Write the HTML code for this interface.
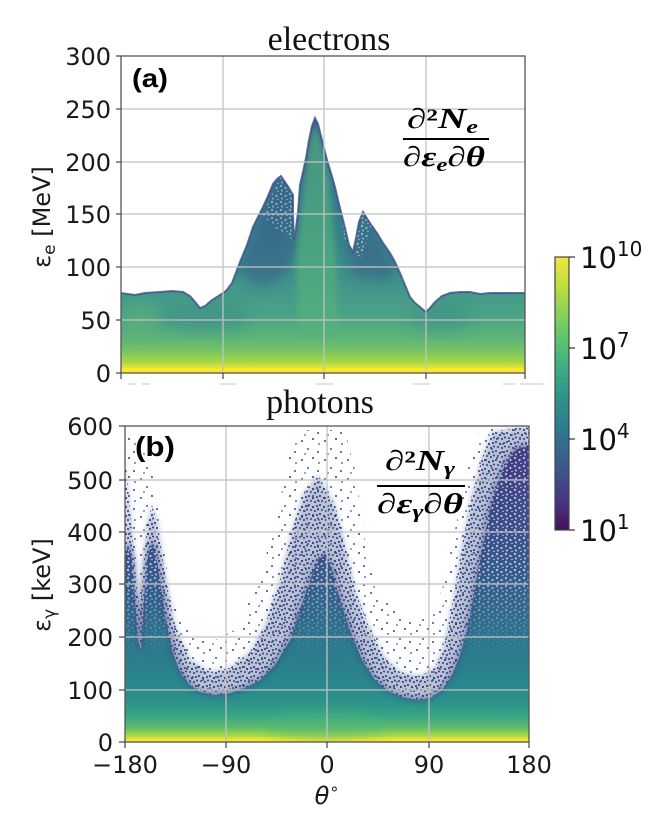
<!DOCTYPE html>
<html><head><meta charset="utf-8"><style>
html,body{margin:0;padding:0;background:#fff;}
svg{display:block;}
</style></head><body>
<svg width="662" height="826" viewBox="0 0 662 826" xmlns="http://www.w3.org/2000/svg">
<defs>
  <clipPath id="cTop"><rect x="121" y="56" width="404" height="317"/></clipPath>
  <clipPath id="cBot"><rect x="125" y="426" width="404" height="316"/></clipPath>
  <filter id="blur3" x="-20%" y="-20%" width="140%" height="140%"><feGaussianBlur stdDeviation="3"/></filter>
  <filter id="blur6" x="-30%" y="-30%" width="160%" height="160%"><feGaussianBlur stdDeviation="6"/></filter>
  <linearGradient id="gTop" gradientUnits="userSpaceOnUse" x1="0" y1="56" x2="0" y2="373">
    <stop offset="0.20" stop-color="#3a678c"/>
    <stop offset="0.45" stop-color="#357a8d"/>
    <stop offset="0.64" stop-color="#3a8d8a"/>
    <stop offset="0.754" stop-color="#44998a"/>
    <stop offset="0.833" stop-color="#4da585"/>
    <stop offset="0.896" stop-color="#5fb676"/>
    <stop offset="0.934" stop-color="#7cc660"/>
    <stop offset="0.965" stop-color="#a6d646"/>
    <stop offset="0.981" stop-color="#d9e23a"/>
    <stop offset="0.987" stop-color="#fbe72a"/>
    <stop offset="1" stop-color="#fde725"/>
  </linearGradient>
  <linearGradient id="gBot" gradientUnits="userSpaceOnUse" x1="0" y1="426" x2="0" y2="742">
    <stop offset="0.076" stop-color="#433d84"/>
    <stop offset="0.361" stop-color="#3b528b"/>
    <stop offset="0.551" stop-color="#33658d"/>
    <stop offset="0.709" stop-color="#2c7a8e"/>
    <stop offset="0.835" stop-color="#2a8a8c"/>
    <stop offset="0.88" stop-color="#2e9489"/>
    <stop offset="0.92" stop-color="#3aa683"/>
    <stop offset="0.955" stop-color="#62bd6a"/>
    <stop offset="0.978" stop-color="#a2d748"/>
    <stop offset="0.992" stop-color="#eee430"/>
    <stop offset="1" stop-color="#fde725"/>
  </linearGradient>
  <linearGradient id="gCb" x1="0" y1="0" x2="0" y2="1">
    <stop offset="0" stop-color="#f2e640"/>
    <stop offset="0.1" stop-color="#c2df3a"/>
    <stop offset="0.2" stop-color="#8cd25a"/>
    <stop offset="0.3" stop-color="#5ec36e"/>
    <stop offset="0.4" stop-color="#3fae82"/>
    <stop offset="0.5" stop-color="#2e978a"/>
    <stop offset="0.6" stop-color="#2e808d"/>
    <stop offset="0.7" stop-color="#35698d"/>
    <stop offset="0.8" stop-color="#3f508a"/>
    <stop offset="0.9" stop-color="#47347f"/>
    <stop offset="1" stop-color="#441257"/>
  </linearGradient>
  <linearGradient id="gFade" gradientUnits="userSpaceOnUse" x1="0" y1="426" x2="0" y2="742">
    <stop offset="0" stop-color="#fff"/>
    <stop offset="0.45" stop-color="#fff"/>
    <stop offset="0.72" stop-color="#000"/>
    <stop offset="1" stop-color="#000"/>
  </linearGradient>
  <mask id="mFade" maskUnits="userSpaceOnUse" x="0" y="0" width="662" height="826">
    <rect x="0" y="0" width="662" height="826" fill="url(#gFade)"/>
  </mask>
  <pattern id="sp" width="23" height="19" patternUnits="userSpaceOnUse">
    <circle cx="3" cy="4" r="1" fill="#3e4a89"/>
    <circle cx="14" cy="2" r="1" fill="#46307e"/>
    <circle cx="9" cy="12" r="1" fill="#31688e"/>
    <circle cx="19" cy="15" r="1" fill="#3e4a89"/>
    <circle cx="6" cy="17" r="0.9" fill="#2a788e"/>
    <circle cx="20" cy="7" r="0.9" fill="#3e4a89"/>
  </pattern>
  <pattern id="md" width="11" height="9" patternUnits="userSpaceOnUse">
    <circle cx="1" cy="1" r="1.1" fill="#3b4f8b"/>
    <circle cx="5" cy="3" r="1.1" fill="#45307c"/>
    <circle cx="9" cy="2" r="1.1" fill="#3b4f8b"/>
    <circle cx="3" cy="6" r="1.1" fill="#31688e"/>
    <circle cx="7" cy="7" r="1.1" fill="#3b4f8b"/>
    <circle cx="10" cy="5.5" r="1" fill="#46307e"/>
  </pattern>
  <pattern id="ws" width="9" height="8" patternUnits="userSpaceOnUse">
    <circle cx="2" cy="2" r="1.1" fill="#fff"/>
    <circle cx="6.5" cy="4" r="1.1" fill="#fff"/>
    <circle cx="3" cy="6.5" r="1" fill="#fff"/>
    <circle cx="8" cy="7.5" r="0.8" fill="#fff"/>
  </pattern>
</defs>

<rect width="662" height="826" fill="#fff"/>

<text x="329" y="50" font-family="Liberation Serif, serif" font-size="34" text-anchor="middle" fill="#111">electrons</text>
<text x="320" y="413" font-family="Liberation Serif, serif" font-size="34" text-anchor="middle" fill="#111">photons</text>

<!-- ===== TOP PANEL DATA ===== -->
<g clip-path="url(#cTop)">
  <path d="M121,373 L121,293 L128,294 L135,295 L145,293 L160,292 L172,291 L183,292 L190,296 L196,303 L200,308 L205,306 L212,300 L220,295 L226,291 L232,283 L240,262 L247,245 L253,227 L258,217 L263,207 L268,196 L273,184 L277,179 L281,176 L285,182 L289,188 L293,195 L293,215 L294,240 L296,228 L298,212 L300,185 L303,172 L306,158 L309,140 L312,126 L315,118 L318,124 L322,140 L327,160 L331,173 L335,187 L338,200 L341,212 L345,228 L349,245 L353,252 L356,238 L359,222 L363,212 L368,220 L372,226 L377,233 L383,243 L390,253 L395,262 L400,273 L405,285 L410,297 L415,303 L420,307 L426,312 L430,308 L435,302 L442,296 L450,293 L460,292 L470,292 L480,294 L490,293 L500,293 L525,293 L525,373 Z" fill="url(#gTop)"/>
  <clipPath id="cEnv"><path d="M121,373 L121,293 L128,294 L135,295 L145,293 L160,292 L172,291 L183,292 L190,296 L196,303 L200,308 L205,306 L212,300 L220,295 L226,291 L232,283 L240,262 L247,245 L253,227 L258,217 L263,207 L268,196 L273,184 L277,179 L281,176 L285,182 L289,188 L293,195 L293,215 L294,240 L296,228 L298,212 L300,185 L303,172 L306,158 L309,140 L312,126 L315,118 L318,124 L322,140 L327,160 L331,173 L335,187 L338,200 L341,212 L345,228 L349,245 L353,252 L356,238 L359,222 L363,212 L368,220 L372,226 L377,233 L383,243 L390,253 L395,262 L400,273 L405,285 L410,297 L415,303 L420,307 L426,312 L430,308 L435,302 L442,296 L450,293 L460,292 L470,292 L480,294 L490,293 L500,293 L525,293 L525,373 Z"/></clipPath>
  <g clip-path="url(#cEnv)">
    <path d="M236,270 L262,212 L281,176 L294,196 L296,245 L288,275 L262,288 Z" fill="#3b4f8a" opacity="0.45" filter="url(#blur6)"/>
    <path d="M338,205 L352,245 L363,212 L380,238 L400,272 L385,282 L352,278 Z" fill="#3b4f8a" opacity="0.42" filter="url(#blur6)"/>
    <ellipse cx="205" cy="318" rx="45" ry="14" fill="#3a8689" opacity="0.45" filter="url(#blur6)"/>
    <ellipse cx="440" cy="318" rx="30" ry="14" fill="#3a8689" opacity="0.4" filter="url(#blur6)"/>
    <path d="M302,200 L310,140 L316,125 L322,145 L330,180 L336,260 L338,330 L298,330 L296,260 Z" fill="#57b57a" opacity="0.6" filter="url(#blur3)"/>
    <ellipse cx="140" cy="320" rx="18" ry="20" fill="#5fb377" opacity="0.4" filter="url(#blur6)"/>
    <path d="M262,215 L281,176 L294,196 L294,240 L280,232 Z" fill="url(#ws)" opacity="0.45"/>
    <path d="M340,210 L352,250 L363,212 L372,226 L360,262 L345,240 Z" fill="url(#ws)" opacity="0.5"/>
  </g>
  <path d="M121,293 L128,294 L135,295 L145,293 L160,292 L172,291 L183,292 L190,296 L196,303 L200,308 L205,306 L212,300 L220,295 L226,291 L232,283 L240,262 L247,245 L253,227 L258,217 L263,207 L268,196 L273,184 L277,179 L281,176 L285,182 L289,188 L293,195 L293,215 L294,240 L296,228 L298,212 L300,185 L303,172 L306,158 L309,140 L312,126 L315,118 L318,124 L322,140 L327,160 L331,173 L335,187 L338,200 L341,212 L345,228 L349,245 L353,252 L356,238 L359,222 L363,212 L368,220 L372,226 L377,233 L383,243 L390,253 L395,262 L400,273 L405,285 L410,297 L415,303 L420,307 L426,312 L430,308 L435,302 L442,296 L450,293 L460,292 L470,292 L480,294 L490,293 L500,293 L525,293" fill="none" stroke="#3d4f8a" stroke-width="2" opacity="0.8"/>
</g>

<!-- ===== BOTTOM PANEL DATA ===== -->
<g clip-path="url(#cBot)">
  <path d="M125,426 L140,440 L150,460 L160,520 L170,590 L180,620 L195,635 L215,640 L235,630 L250,600 L265,560 L280,500 L290,450 L300,430 L345,430 L355,470 L365,540 L375,580 L385,600 L400,615 L420,620 L435,610 L445,580 L455,530 L465,480 L475,440 L485,426 L529,426 L529,742 L125,742 Z" fill="url(#sp)"/>
  <path d="M125,455 L130,510 L134,555 L137,590 L140,610 L143,570 L147,525 L152,505 L158,525 L165,575 L175,625 L190,660 L210,672 L230,668 L250,652 L265,625 L280,580 L292,530 L303,495 L318,475 L335,505 L345,545 L355,590 L370,630 L385,658 L400,672 L420,676 L435,668 L445,642 L455,590 L463,540 L472,495 L482,458 L492,432 L529,426 L529,742 L125,742 Z" fill="#3b528b" opacity="0.35" filter="url(#blur3)"/>
  <path d="M125,455 L130,510 L134,555 L137,590 L140,610 L143,570 L147,525 L152,505 L158,525 L165,575 L175,625 L190,660 L210,672 L230,668 L250,652 L265,625 L280,580 L292,530 L303,495 L318,475 L335,505 L345,545 L355,590 L370,630 L385,658 L400,672 L420,676 L435,668 L445,642 L455,590 L463,540 L472,495 L482,458 L492,432 L529,426 L529,742 L125,742 Z" fill="url(#md)"/>
  <path d="M125,742 L125,560 L128,545 L132,560 L135,600 L138,640 L141,650 L144,600 L147,560 L151,545 L155,550 L160,580 L165,615 L172,650 L180,672 L190,685 L200,692 L215,695 L230,693 L245,688 L260,680 L275,665 L290,640 L300,610 L310,580 L318,560 L325,555 L332,570 L340,600 L350,630 L362,660 L375,680 L390,692 L405,698 L420,700 L432,697 L442,690 L452,675 L460,655 L467,630 L473,600 L478,570 L484,540 L490,510 L497,485 L505,465 L515,450 L529,445 L529,742 Z" fill="url(#gBot)"/>
  <path d="M125,560 L128,545 L132,560 L135,600 L138,640 L141,650 L144,600 L147,560 L151,545 L155,550 L160,580 L165,615 L172,650 L180,672 L190,685 L200,692 L215,695 L230,693 L245,688 L260,680 L275,665 L290,640 L300,610 L310,580 L318,560 L325,555 L332,570 L340,600 L350,630 L362,660 L375,680 L390,692 L405,698 L420,700 L432,697 L442,690 L452,675 L460,655 L467,630 L473,600 L478,570 L484,540 L490,510 L497,485 L505,465 L515,450 L529,445" fill="none" stroke="#3b4a88" stroke-width="5" opacity="0.5" filter="url(#blur3)"/>
  <path d="M125,742 L125,560 L128,545 L132,560 L135,600 L138,640 L141,650 L144,600 L147,560 L151,545 L155,550 L160,580 L165,615 L172,650 L180,672 L190,685 L200,692 L215,695 L230,693 L245,688 L260,680 L275,665 L290,640 L300,610 L310,580 L318,560 L325,555 L332,570 L340,600 L350,630 L362,660 L375,680 L390,692 L405,698 L420,700 L432,697 L442,690 L452,675 L460,655 L467,630 L473,600 L478,570 L484,540 L490,510 L497,485 L505,465 L515,450 L529,445 L529,742 Z" fill="url(#ws)" opacity="0.7" mask="url(#mFade)"/>
  <ellipse cx="325" cy="726" rx="60" ry="14" fill="#4fb578" opacity="0.45" filter="url(#blur6)"/>
</g>

<!-- ===== GRIDS ===== -->
<g stroke="#c4c4c4" stroke-width="1.5" opacity="0.85">
  <line x1="121" y1="109" x2="525" y2="109"/>
  <line x1="121" y1="162" x2="525" y2="162"/>
  <line x1="121" y1="214" x2="525" y2="214"/>
  <line x1="121" y1="267" x2="525" y2="267"/>
  <line x1="121" y1="320" x2="525" y2="320"/>
  <line x1="223" y1="56" x2="223" y2="373"/>
  <line x1="324" y1="56" x2="324" y2="373"/>
  <line x1="426" y1="56" x2="426" y2="373"/>

  <line x1="125" y1="480" x2="529" y2="480"/>
  <line x1="125" y1="532" x2="529" y2="532"/>
  <line x1="125" y1="584" x2="529" y2="584"/>
  <line x1="125" y1="637" x2="529" y2="637"/>
  <line x1="125" y1="690" x2="529" y2="690"/>
  <line x1="226" y1="426" x2="226" y2="742"/>
  <line x1="327" y1="426" x2="327" y2="742"/>
  <line x1="429" y1="426" x2="429" y2="742"/>
</g>

<!-- ===== SPINES & TICKS ===== -->
<rect x="121" y="56" width="404" height="317" fill="none" stroke="#555" stroke-width="1.3"/>
<rect x="125" y="426" width="404" height="316" fill="none" stroke="#555" stroke-width="1.3"/>
<g stroke="#444" stroke-width="1.2">
  <line x1="116" y1="56" x2="121" y2="56"/>
  <line x1="116" y1="109" x2="121" y2="109"/>
  <line x1="116" y1="162" x2="121" y2="162"/>
  <line x1="116" y1="214" x2="121" y2="214"/>
  <line x1="116" y1="267" x2="121" y2="267"/>
  <line x1="116" y1="320" x2="121" y2="320"/>
  <line x1="116" y1="373" x2="121" y2="373"/>
  <line x1="121" y1="373" x2="121" y2="379"/>
  <line x1="223" y1="373" x2="223" y2="379"/>
  <line x1="324" y1="373" x2="324" y2="379"/>
  <line x1="426" y1="373" x2="426" y2="379"/>
  <line x1="525" y1="373" x2="525" y2="379"/>

  <line x1="119" y1="426" x2="125" y2="426"/>
  <line x1="119" y1="480" x2="125" y2="480"/>
  <line x1="119" y1="532" x2="125" y2="532"/>
  <line x1="119" y1="584" x2="125" y2="584"/>
  <line x1="119" y1="637" x2="125" y2="637"/>
  <line x1="119" y1="690" x2="125" y2="690"/>
  <line x1="119" y1="742" x2="125" y2="742"/>
  <line x1="125" y1="742" x2="125" y2="748"/>
  <line x1="226" y1="742" x2="226" y2="748"/>
  <line x1="327" y1="742" x2="327" y2="748"/>
  <line x1="429" y1="742" x2="429" y2="748"/>
  <line x1="529" y1="742" x2="529" y2="748"/>
</g>

<g stroke="#e2e2e2" stroke-width="2">
  <line x1="128" y1="384" x2="136" y2="384"/>
  <line x1="142" y1="384" x2="150" y2="384"/>
  <line x1="220" y1="384" x2="236" y2="384"/>
  <line x1="316" y1="384" x2="333" y2="384"/>
  <line x1="413" y1="384" x2="430" y2="384"/>
  <line x1="503" y1="384" x2="515" y2="384"/>
  <line x1="520" y1="384" x2="543" y2="384"/>
</g>

<!-- ===== TICK LABELS ===== -->
<g font-family="DejaVu Sans, Liberation Sans, sans-serif" font-size="24" fill="#1a1a1a" text-anchor="end">
  <text x="111" y="65">300</text>
  <text x="111" y="118">250</text>
  <text x="111" y="171">200</text>
  <text x="111" y="223">150</text>
  <text x="111" y="276">100</text>
  <text x="111" y="329">50</text>
  <text x="111" y="382">0</text>

  <text x="113" y="435">600</text>
  <text x="113" y="489">500</text>
  <text x="113" y="541">400</text>
  <text x="113" y="593">300</text>
  <text x="113" y="646">200</text>
  <text x="113" y="699">100</text>
  <text x="113" y="751">0</text>
</g>
<g font-family="DejaVu Sans, Liberation Sans, sans-serif" font-size="24" fill="#1a1a1a" text-anchor="middle">
  <text x="125" y="773">−180</text>
  <text x="226" y="773">−90</text>
  <text x="327" y="773">0</text>
  <text x="429" y="773">90</text>
  <text x="529" y="773">180</text>
  <text x="327" y="804"><tspan font-style="italic">θ</tspan><tspan font-size="16" dy="-10">∘</tspan></text>
</g>

<text transform="translate(50,217) rotate(-90)" font-family="DejaVu Sans, Liberation Sans, sans-serif" font-size="24" fill="#1a1a1a" text-anchor="middle">ε<tspan font-size="17" dy="5">e</tspan><tspan dy="-5"> [MeV]</tspan></text>
<text transform="translate(50,585) rotate(-90)" font-family="DejaVu Sans, Liberation Sans, sans-serif" font-size="24" fill="#1a1a1a" text-anchor="middle">ε<tspan font-size="17" dy="5">γ</tspan><tspan dy="-5"> [keV]</tspan></text>

<text x="132" y="87" font-family="Liberation Sans, sans-serif" font-weight="bold" font-size="26" fill="#000" textLength="36" lengthAdjust="spacingAndGlyphs">(a)</text>
<text x="135" y="456" font-family="Liberation Sans, sans-serif" font-weight="bold" font-size="28" fill="#000" textLength="40" lengthAdjust="spacingAndGlyphs">(b)</text>

<g font-family="Liberation Serif, serif" font-weight="bold" font-style="italic" fill="#000">
  <text x="407" y="128" font-size="28" textLength="71" lengthAdjust="spacingAndGlyphs">∂<tspan font-style="normal">²</tspan>N<tspan font-size="19" dy="5">e</tspan></text>
  <line x1="403" y1="139" x2="489" y2="139" stroke="#000" stroke-width="2"/>
  <text x="403" y="166" font-size="28" textLength="82" lengthAdjust="spacingAndGlyphs">∂ε<tspan font-size="19" dy="5">e</tspan><tspan dy="-5">∂θ</tspan></text>

  <text x="385" y="470" font-size="28" textLength="70" lengthAdjust="spacingAndGlyphs">∂<tspan font-style="normal">²</tspan>N<tspan font-size="19" dy="5">γ</tspan></text>
  <line x1="377" y1="486" x2="465" y2="486" stroke="#000" stroke-width="2"/>
  <text x="377" y="513" font-size="28" textLength="86" lengthAdjust="spacingAndGlyphs">∂ε<tspan font-size="19" dy="5">γ</tspan><tspan dy="-5">∂θ</tspan></text>
</g>

<!-- ===== COLORBAR ===== -->
<rect x="555" y="257" width="14" height="273" fill="url(#gCb)" stroke="#444" stroke-width="1.2"/>
<g stroke="#333" stroke-width="1.2">
  <line x1="569" y1="257" x2="575" y2="257"/>
  <line x1="569" y1="348" x2="575" y2="348"/>
  <line x1="569" y1="439" x2="575" y2="439"/>
  <line x1="569" y1="530" x2="575" y2="530"/>
</g>
<g font-family="DejaVu Sans, Liberation Sans, sans-serif" font-size="29" fill="#111">
  <text x="580" y="268">10<tspan font-size="20" dy="-12">10</tspan></text>
  <text x="580" y="359">10<tspan font-size="20" dy="-12">7</tspan></text>
  <text x="580" y="450">10<tspan font-size="20" dy="-12">4</tspan></text>
  <text x="580" y="541">10<tspan font-size="20" dy="-12">1</tspan></text>
</g>
</svg>
</body></html>
